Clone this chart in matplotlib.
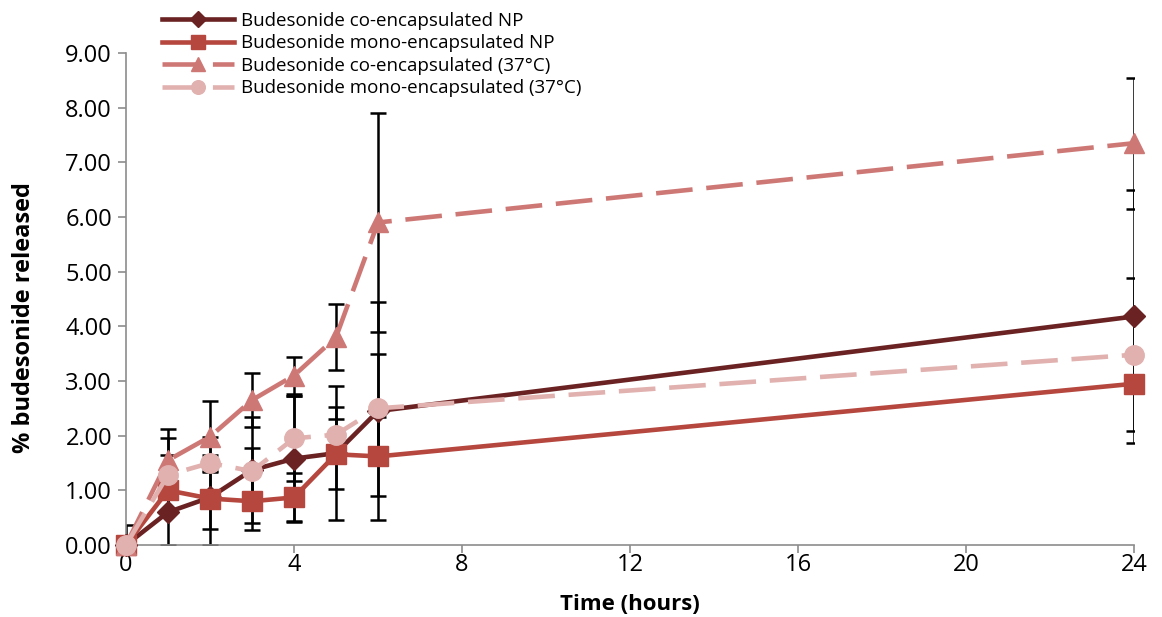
import numpy as np
import matplotlib
matplotlib.use("Agg")
import matplotlib.pyplot as plt

plt.rcParams["font.family"] = ["Open Sans", "DejaVu Sans"]

# ── Data ─────────────────────────────────────────────────────────────────
time_h = [0, 1, 2, 3, 4, 5, 6, 24]

co_np       = [0.00, 0.60, 0.87, 1.37, 1.58, 1.68, 2.45, 4.18]
co_np_err   = [0.37, 1.05, 1.10, 0.97, 1.15, 1.23, 2.00, 2.31]

mono_np     = [0.00, 1.00, 0.85, 0.80, 0.87, 1.66, 1.62, 2.95]
mono_np_err = [0.00, 0.40, 0.56, 0.53, 0.45, 0.64, 0.72, 0.14]

co_37       = [0.00, 1.55, 1.98, 2.65, 3.10, 3.80, 5.90, 7.35]
co_37_err   = [0.00, 0.57, 0.65, 0.50, 0.33, 0.60, 2.00, 1.20]

mono_37     = [0.00, 1.28, 1.50, 1.35, 1.95, 2.02, 2.50, 3.48]
mono_37_err = [0.00, 0.68, 0.15, 0.43, 0.78, 0.50, 1.00, 1.40]

labels = [
    "Budesonide co-encapsulated NP",
    "Budesonide mono-encapsulated NP",
    "Budesonide co-encapsulated (37°C)",
    "Budesonide mono-encapsulated (37°C)",
]

STYLES = [
    dict(color="#6A2222", marker="D", ms=11, ls="-"),
    dict(color="#B5473F", marker="s", ms=14, ls="-"),
    dict(color="#CE7876", marker="^", ms=14, ls=(0, (8, 3))),
    dict(color="#E0B1AF", marker="o", ms=14, ls=(0, (8, 3))),
]

fig = plt.figure(figsize=(11.62, 6.17), dpi=100)
ax = fig.add_axes([0.1084, 0.1167, 0.8675, 0.7974])

series = [(co_np, co_np_err), (mono_np, mono_np_err),
          (co_37, co_37_err), (mono_37, mono_37_err)]

handles = []
for (y, err), lab, st in zip(series, labels, STYLES):
    y = np.array(y)
    err = np.array(err)
    lower = np.minimum(err, y)  # error bars stop at the axis
    ax.errorbar(time_h, y, yerr=[lower, err], fmt="none", ecolor="black",
                elinewidth=1.8, capsize=5.5, capthick=1.8, zorder=2)
    h, = ax.plot(time_h, y, color=st["color"], lw=3.3, ls=st["ls"],
                 marker=st["marker"], ms=st["ms"], mec=st["color"],
                 mfc=st["color"], label=lab, zorder=3, clip_on=False)
    handles.append(h)

ax.set_xlim(0, 24)
ax.set_ylim(0, 9)
ax.set_xticks(np.arange(0, 25, 4))
ax.set_yticks(np.arange(0, 9.5, 1))
ax.set_yticklabels([f"{v:.2f}" for v in np.arange(0, 9.5, 1)])
ax.tick_params(axis="both", labelsize=17, direction="out", length=6,
               width=1.2, color="#8C8C8C")
ax.tick_params(axis="x", pad=0)
ax.tick_params(axis="y", pad=4)

for side in ["top", "right"]:
    ax.spines[side].set_visible(False)
for side in ["left", "bottom"]:
    ax.spines[side].set_color("#8C8C8C")
    ax.spines[side].set_linewidth(1.2)

ax.set_xlabel("Time (hours)", fontsize=16, fontweight="bold", labelpad=12)
ax.set_ylabel("% budesonide released", fontsize=17, fontweight="bold")
ax.yaxis.set_label_coords(-0.089, 0.463)

leg = fig.legend(handles=handles, loc="upper left",
                 bbox_to_anchor=(0.1248, 1.008), frameon=False, fontsize=13.5,
                 handlelength=3.85, handletextpad=0.35, labelspacing=0.24,
                 markerscale=0.7)

fig.savefig("out.png", dpi=100)
